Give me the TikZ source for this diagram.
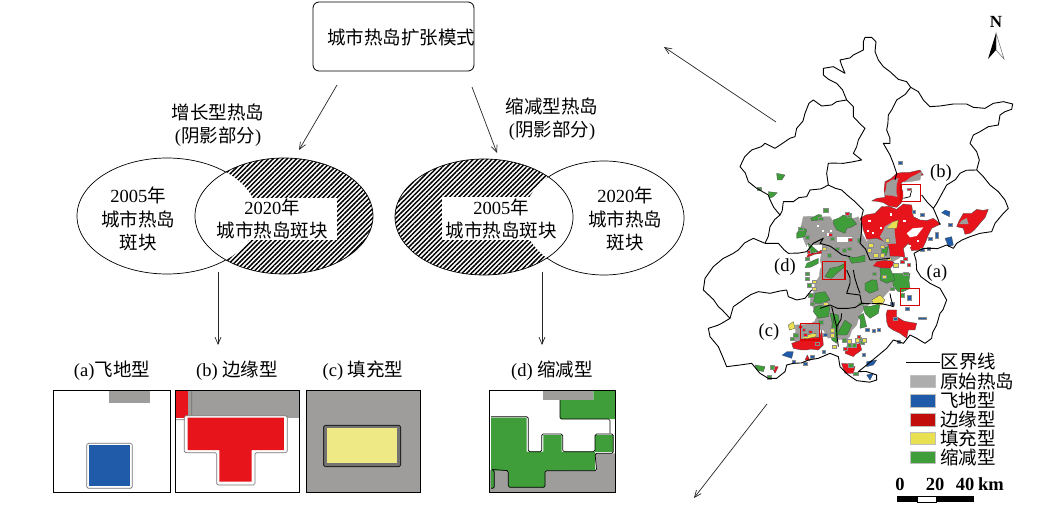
\documentclass[tikz,border=0pt]{standalone}
\usepackage{fontspec}
\setmainfont{Liberation Serif}
\newfontfamily\cjk{Noto Sans CJK SC}
\usetikzlibrary{arrows.meta,patterns.meta,shapes.geometric,decorations.pathmorphing}
\newcommand{\zh}[1]{{\cjk #1}}
\definecolor{hotgray}{HTML}{9F9D9B}
\definecolor{hotred}{HTML}{E8141C}
\definecolor{hotgreen}{HTML}{3F9E3A}
\definecolor{hotblue}{HTML}{1F5BA8}
\definecolor{hotyellow}{HTML}{E8E050}
\tikzset{
  every node/.style={font=\fontsize{18.5}{23.5}\selectfont,inner sep=0pt,align=center},
  flowline/.style={draw=black!85,line width=0.7pt,-{Straight Barb[length=7pt,width=6pt]}},
  spot/.style={draw=black,line width=0.7pt,shape=ellipse,inner sep=0pt},
  hatched/.style={pattern={Lines[angle=45,distance=3.3pt,line width=1.5pt]},pattern color=black},
  panel/.style={draw=black,line width=0.8pt},
  grown/.style={draw=black!55,line width=0.7pt,rounded corners=1.5pt},
  mapline/.style={draw=black,line width=0.9pt,line join=round,decorate,decoration={random steps,segment length=9pt,amplitude=2pt}},
  patch/.style={line width=0.3pt,draw=black!70,line join=round,decorate,decoration={random steps,segment length=7pt,amplitude=1.6pt}},
  graypatch/.style={patch,fill=hotgray,draw=hotgray},
  redpatch/.style={patch,fill=hotred},
  greenpatch/.style={patch,fill=hotgreen},
  bluepatch/.style={patch,fill=hotblue},
  yellowpatch/.style={patch,fill=hotyellow},
  speck/.style={line width=0.2pt,draw=black!45},
  redbox/.style={draw=red!85!black,line width=1.2pt},
  swatch/.style={minimum width=25pt,minimum height=12.5pt,draw=black!25,line width=0.4pt},
  legendtext/.style={anchor=west}
}
\begin{document}
\begin{tikzpicture}[x=1pt,y=-1pt]
    \useasboundingbox (0,0) rectangle (1039,516);
    \pgfmathsetseed{7}
    % top box and headings
    \node [draw=black,line width=0.8pt,rounded corners=6pt,minimum width=161pt,minimum height=69pt] (mode) at (393.5,36.5) {};
    \node (modetext) at (401,37) {\zh{城市热岛扩张模式}};
    \node (growtitle) at (218,125) {\zh{增长型热岛}\\(\zh{阴影部分})};
    \node (shrinktitle) at (552,119) {\zh{缩减型热岛}\\(\zh{阴影部分})};
    % growth ellipses
    \node [spot,minimum width=180pt,minimum height=116pt] (old1) at (167,216) {};
    \fill [white] (284,216) ellipse (89 and 58);
    \fill [hatched] (284,216) ellipse (89 and 58);
    \begin{scope}
        \clip (284,216) ellipse (89 and 58);
        \fill [white] (167,216) ellipse (90 and 58);
    \end{scope}
    \node [spot,minimum width=178pt,minimum height=116pt] (new1) at (284,216) {};
    \fill [white] (217,198) rectangle (337,240);
    \node (old1text) at (138,219) {2005\zh{年}\\\zh{城市热岛}\\\zh{斑块}};
    \node (new1text) at (272,219) {2020\zh{年}\\\zh{城市热岛斑块}};
    % shrink ellipses
    \node [spot,minimum width=160pt,minimum height=114pt] (new2) at (604,218) {};
    \fill [white] (484,217) ellipse (89 and 58);
    \fill [hatched] (484,217) ellipse (89 and 58);
    \begin{scope}
        \clip (484,217) ellipse (89 and 58);
        \fill [white] (604,218) ellipse (80 and 57);
    \end{scope}
    \node [spot,minimum width=178pt,minimum height=116pt] (old2) at (484,217) {};
    \fill [white] (442,197) rectangle (557,240);
    \node (old2text) at (501,219) {2005\zh{年}\\\zh{城市热岛斑块}};
    \node (new2text) at (625,219) {2020\zh{年}\\\zh{城市热岛}\\\zh{斑块}};
    % arrows
    \coordinate (a1) at (337,85);
    \coordinate (a2) at (299,150);
    \coordinate (b1) at (472,87);
    \coordinate (b2) at (497,153);
    \coordinate (c1) at (218,272);
    \coordinate (c2) at (218,345);
    \coordinate (d1) at (542,272);
    \coordinate (d2) at (542,345);
    \coordinate (e1) at (776,122);
    \coordinate (e2) at (664,47);
    \coordinate (f1) at (767,404);
    \coordinate (f2) at (694,498);
    \draw [flowline] (a1) -- (a2);
    \draw [flowline] (b1) -- (b2);
    \draw [flowline] (c1) -- (c2);
    \draw [flowline] (d1) -- (d2);
    \draw [flowline] (e1) -- (e2);
    \draw [flowline] (f1) -- (f2);
    % panel labels
    \node (labela) at (112,371) {(a)\zh{飞地型}};
    \node (labelb) at (237,371) {(b) \zh{边缘型}};
    \node (labelc) at (363,371) {(c) \zh{填充型}};
    \node (labeld) at (552,371) {(d) \zh{缩减型}};
    % panels a b c
    \begin{scope}[shift={(40,350)},scale=1/3]
        \fill [hotgray] (207,122) rectangle (330,160);
        \draw [grown,fill=white] (140,280) rectangle (277,415);
        \fill [hotblue] (146,286) rectangle (271,409);
        \draw [panel] (40,122) rectangle (392,428);
        \fill [hotgray] (445,122) rectangle (778,203);
        \fill [hotred] (405,122) rectangle (445,203);
        \draw [grown] (405,209) -- (455,209) -- (455,122);
        \draw [grown,fill=white] (433,197) -- (742,197) -- (742,308) -- (645,308) -- (645,405) -- (530,405) -- (530,308) -- (433,308) -- cycle;
        \fill [hotred] (443,203) -- (732,203) -- (732,300) -- (635,300) -- (635,395) -- (538,395) -- (538,300) -- (443,300) -- cycle;
        \draw [panel] (405,122) rectangle (778,428);
        \fill [hotgray] (798,122) rectangle (1142,428);
        \draw [draw=black!85,line width=0.9pt,rounded corners=1.5pt,fill=black!55] (851,226) rectangle (1082,350);
        \fill [hotyellow!70!white] (860,234) rectangle (1070,338);
        \draw [panel] (798,122) rectangle (1142,428);
    \end{scope}
    % panel d
    \begin{scope}[shift={(480,350)},scale=1/3]
        \fill [hotgray] (190,122) rectangle (340,150);
        \fill [hotgray] (345,310) -- (405,310) -- (405,427) -- (28,427) -- (28,360) -- (350,362) -- cycle;
        \fill [hotgreen] (240,150) -- (340,150) -- (340,122) -- (405,122) -- (405,207) -- (240,207) -- cycle;
        \fill [hotgreen] (33,203) -- (140,203) -- (140,305) -- (190,305) -- (190,255) -- (245,255) -- (245,305) -- (345,305) -- (345,362) -- (195,362) -- (195,412) -- (85,412) -- (85,362) -- (43,362) -- (43,415) -- (33,415) -- cycle;
        \fill [hotgreen] (345,255) -- (398,255) -- (398,305) -- (345,305) -- cycle;
        \draw [grown,draw=black] (240,150) -- (240,207) -- (390,207) -- (390,250);
        \draw [grown,draw=black] (33,200) -- (145,200) -- (145,305) -- (185,305) -- (185,252) -- (248,252) -- (248,305) -- (345,305) -- (345,252) -- (400,252) -- (400,310) -- (345,310) -- (350,362) -- (195,362) -- (195,412) -- (85,412) -- (85,362) -- (33,358) -- (43,362) -- (43,415) -- (33,415);
        \draw [panel] (28,122) rectangle (405,427);
    \end{scope}
    % map, drawn at three times size
    \begin{scope}[shift={(690,0)},scale=1/3]
        % old hot island
        \draw [graypatch] (340,650) -- (420,650) -- (430,665) -- (505,650) -- (515,700) -- (530,725) -- (580,670) -- (605,670) -- (610,720) -- (640,750) -- (640,760) -- (600,790) -- (600,810) -- (612,850) -- (590,880) -- (565,900) -- (540,910) -- (510,945) -- (500,975) -- (470,1020) -- (430,1010) -- (415,1015) -- (400,990) -- (385,990) -- (375,960) -- (385,945) -- (360,900) -- (375,850) -- (395,800) -- (395,760) -- (350,740) -- (335,700) -- cycle;
        \draw [graypatch] (315,975) -- (390,965) -- (392,1025) -- (315,1030) -- cycle;
        \fill [white] (440,712) rectangle (485,726);
        \fill [white] (352,735) rectangle (395,760);
        % edge type
        \draw [redpatch] (510,655) -- (555,640) -- (575,620) -- (620,628) -- (640,612) -- (665,615) -- (670,650) -- (690,660) -- (730,655) -- (752,672) -- (725,685) -- (715,705) -- (695,750) -- (665,752) -- (655,730) -- (640,745) -- (645,772) -- (600,768) -- (595,735) -- (560,715) -- (530,718) -- (520,690) -- cycle;
        \draw [graypatch] (585,680) -- (610,665) -- (618,730) -- (590,732) -- (570,710) -- cycle;
        \draw [redpatch] (585,545) -- (620,520) -- (690,510) -- (700,525) -- (660,540) -- (630,555) -- (640,590) -- (620,622) -- (545,603) -- (560,595) -- (585,592) -- (582,570) -- cycle;
        \draw [graypatch] (582,585) -- (590,550) -- (625,535) -- (622,590) -- cycle;
        \draw [graypatch] (660,533) -- (695,515) -- (690,540) -- (655,545) -- cycle;
        \draw [redpatch] (800,680) -- (820,640) -- (845,640) -- (860,628) -- (895,628) -- (870,670) -- (840,700) -- (825,703) -- (820,685) -- cycle;
        \draw [graypatch] (815,662) -- (830,655) -- (835,672) -- (818,672) -- cycle;
        \draw [redpatch] (592,930) -- (620,930) -- (620,950) -- (650,965) -- (680,970) -- (675,990) -- (655,990) -- (650,1015) -- (630,1000) -- (595,980) -- (590,965) -- cycle;
        \draw [redpatch] (305,1030) -- (330,1022) -- (390,1012) -- (395,990) -- (400,1035) -- (385,1050) -- (350,1050) -- (310,1045) -- cycle;
        \draw [redpatch] (470,1040) -- (510,1030) -- (515,1050) -- (490,1070) -- (465,1060) -- cycle;
        \draw [redpatch] (455,1090) -- (495,1100) -- (490,1120) -- (465,1120) -- cycle;
        \draw [redpatch] (352,1065) -- (360,1082) -- (345,1080) -- cycle;
        \draw [redpatch] (245,1100) -- (265,1100) -- (255,1120) -- cycle;
        \draw [redpatch] (560,785) -- (600,780) -- (615,790) -- (600,805) -- (565,800) -- cycle;
        \draw [redpatch] (355,760) -- (395,750) -- (395,760) -- (360,770) -- cycle;
        \fill [white] (640,575) -- (690,560) -- (690,600) -- (640,600) -- cycle;
        \fill [white] (650,700) -- (668,685) -- (700,682) -- (680,708) -- (660,712) -- cycle;
        \draw [line width=0.7pt] (640,595) -- (660,590) -- (665,570);
        \draw [speck,fill=hotred] (650,563) rectangle (664,571);
        % shrink type
        \draw [greenpatch] (430,660) -- (460,645) -- (490,660) -- (500,672) -- (470,685) -- (465,700) -- (440,690) -- cycle;
        \draw [greenpatch] (320,700) -- (335,680) -- (350,690) -- (345,710) -- (320,715) -- cycle;
        \draw [greenpatch] (362,655) -- (395,645) -- (395,660) -- (365,662) -- cycle;
        \draw [greenpatch] (260,520) -- (285,525) -- (275,540) -- (262,540) -- cycle;
        \draw [greenpatch] (235,575) -- (262,578) -- (250,590) -- (238,595) -- cycle;
        \draw [greenpatch] (610,820) -- (660,820) -- (660,865) -- (625,875) -- (610,860) -- cycle;
        \draw [greenpatch] (525,850) -- (560,840) -- (565,870) -- (540,880) -- (525,870) -- cycle;
        \draw [greenpatch] (570,805) -- (600,805) -- (615,840) -- (590,850) -- (570,840) -- cycle;
        \draw [greenpatch] (375,880) -- (405,875) -- (420,900) -- (395,910) -- (370,910) -- cycle;
        \draw [greenpatch] (375,920) -- (420,920) -- (415,950) -- (385,955) -- (370,935) -- cycle;
        \draw [greenpatch] (520,920) -- (570,910) -- (565,940) -- (540,955) -- (525,940) -- cycle;
        \draw [greenpatch] (505,950) -- (520,940) -- (530,980) -- (510,985) -- cycle;
        \draw [greenpatch] (465,960) -- (485,975) -- (470,1005) -- (440,1005) -- cycle;
        \draw [greenpatch] (420,940) -- (445,945) -- (445,985) -- (425,985) -- cycle;
        \draw [greenpatch] (195,1095) -- (225,1100) -- (220,1115) -- (200,1110) -- cycle;
        \draw [greenpatch] (405,830) -- (420,805) -- (445,800) -- (465,790) -- (462,802) -- (440,820) -- (425,835) -- cycle;
        \draw [greenpatch] (350,790) -- (385,775) -- (385,790) -- (355,800) -- cycle;
        \draw [greenpatch] (475,770) -- (525,765) -- (525,785) -- (485,790) -- cycle;
        \draw [greenpatch] (430,950) -- (425,1020) -- (440,1030) -- (445,990) -- cycle;
        \draw [greenpatch] (575,745) -- (595,740) -- (590,765) -- (575,770) -- cycle;
        \draw [greenpatch] (355,730) -- (385,755) -- (360,760) -- cycle;
        \foreach \x/\y in {400/625,385/650,325/680,345/705,470/640,500/715,420/710,410/760,345/770,350/850,355/880,345/830,345/815,360/905,385/960,500/1010,470/1030,455/1015,485/1030,300/1010,310/1000,505/905,545/815,630/880,600/860,640/815,475/1090,490/1115,230/1125,240/1095,200/560,435/740,455/745,510/1020,470/740}
            \draw [speck,fill=hotgreen] (\x,\y) rectangle ++(13,11);
        % infill type
        \draw [yellowpatch] (545,900) -- (570,885) -- (585,900) -- (575,915) -- (550,910) -- cycle;
        \draw [yellowpatch] (295,975) -- (310,965) -- (315,985) -- (298,990) -- cycle;
        \draw [yellowpatch] (345,1007) -- (378,1000) -- (378,1010) -- (345,1015) -- cycle;
        \draw [yellowpatch] (610,665) -- (625,660) -- (620,685) -- (610,685) -- cycle;
        \foreach \x/\y in {535/730,550/760,420/985,420/1000,395/740,575/825,365/840,585/715,400/905,365/860,515/1015,495/1015,470/1018,425/1035,590/770,610/790,570/735,530/745,570/760}
            \draw [speck,fill=hotyellow] (\x,\y) rectangle ++(13,10);
        % small edge pieces and holes
        \foreach \x/\y in {465/635,475/715,415/700,350/750,340/1000,335/985,325/975,500/1005,630/780,650/790,640/770,355/990,375/1025,460/1040}
            \draw [speck,fill=hotred] (\x,\y) rectangle ++(11,9);
        \foreach \x/\y in {535/660,570/680,545/695,640/660,655/735,680/720,600/640,530/690,420/690,395/690,410/700,380/675}
            \fill [white] (\x,\y) rectangle ++(7,7);
        % flying type
        \draw [bluepatch] (765,630) -- (780,635) -- (778,650) -- (768,645) -- cycle;
        \draw [bluepatch] (765,715) -- (785,710) -- (790,735) -- (775,740) -- cycle;
        \draw [bluepatch] (290,1055) -- (310,1055) -- (305,1075) -- (290,1070) -- cycle;
        \draw [bluepatch] (530,1085) -- (560,1080) -- (550,1095) -- (530,1100) -- cycle;
        \draw [bluepatch] (530,1125) -- (550,1120) -- (540,1140) -- cycle;
        \draw [speck,fill=hotblue] (652,885) rectangle (664,900);
        \draw [speck,fill=hotblue] (685,950) rectangle (708,958);
        \draw [speck,fill=hotblue] (735,695) rectangle (745,713);
        \foreach \x/\y in {775/668,625/484,665/630,715/710,645/920,545/988,620/1020,395/1050,400/1000,515/1060,305/1080,690/745,560/985,525/985,610/950,600/905,360/1065,340/1085,710/740,690/640}
            \draw [speck,fill=hotblue] (\x,\y) rectangle ++(11,9);
        % outline and districts
        \draw [mapline] (520,125) -- (525,112) -- (545,112) -- (558,125) -- (555,155) -- (565,180) -- (580,200) -- (600,215) -- (625,238) -- (650,245) -- (662,262) -- (685,275) -- (700,300) -- (720,320) -- (750,318) -- (790,312) -- (830,312) -- (850,322) -- (885,325) -- (910,310) -- (940,305) -- (968,312) -- (965,328) -- (945,335) -- (930,345) -- (925,375) -- (895,380) -- (870,395) -- (850,405) -- (840,430) -- (860,455) -- (868,480) -- (860,510) -- (880,530) -- (900,555) -- (925,575) -- (945,600) -- (955,625) -- (940,640) -- (915,670) -- (905,695) -- (870,700) -- (840,710) -- (800,730) -- (790,745) -- (770,735) -- (730,745) -- (700,745) -- (672,760) -- (680,810) -- (720,850) -- (750,865) -- (770,900) -- (750,940) -- (740,975) -- (725,1015) -- (705,1030) -- (680,1015) -- (660,1005) -- (640,1030) -- (610,1020) -- (590,1045) -- (560,1070) -- (530,1095) -- (505,1115) -- (560,1125) -- (560,1140) -- (500,1142) -- (475,1125) -- (450,1100) -- (445,1070) -- (420,1060) -- (385,1075) -- (355,1080) -- (310,1090) -- (290,1095) -- (285,1115) -- (260,1135) -- (235,1135) -- (210,1120) -- (185,1090) -- (150,1095) -- (110,1100) -- (100,1075) -- (85,1040) -- (60,1010) -- (55,985) -- (95,970) -- (120,955) -- (85,920) -- (40,870) -- (45,835) -- (70,800) -- (100,775) -- (145,750) -- (190,715) -- (225,730) -- (240,680) -- (270,645) -- (235,585) -- (200,565) -- (175,545) -- (150,500) -- (185,450) -- (225,430) -- (255,445) -- (315,410) -- (320,385) -- (345,340) -- (370,300) -- (395,318) -- (440,305) -- (470,300) -- (440,250) -- (400,225) -- (400,205) -- (430,200) -- (465,220) -- (450,180) -- (490,165) -- (520,150) -- cycle;
        \draw [mapline] (470,300) -- (490,320) -- (490,350) -- (525,385) -- (505,420) -- (490,460) -- (515,480) -- (460,490) -- (415,490) -- (410,520) -- (415,555) -- (455,570) -- (495,605) -- (520,630) -- (515,690) -- (510,730) -- (540,780);
        \draw [mapline] (415,555) -- (360,570) -- (350,590) -- (310,605) -- (280,605) -- (270,645);
        \draw [mapline] (662,262) -- (620,300) -- (595,345) -- (590,390) -- (600,430) -- (580,430) -- (600,465) -- (610,490) -- (620,520) -- (615,540);
        \draw [mapline] (860,510) -- (810,520) -- (770,555) -- (740,610) -- (730,625) -- (745,660) -- (750,675);
        \draw [mapline] (695,585) -- (730,625);
        \draw [mapline] (225,730) -- (265,730) -- (295,760) -- (350,755) -- (370,730) -- (400,715) -- (390,730) -- (430,745) -- (480,770);
        \draw [mapline] (120,955) -- (130,920) -- (165,895) -- (205,875) -- (240,880) -- (290,870) -- (295,890) -- (320,900) -- (345,895) -- (365,870);
        \draw [mapline] (470,810) -- (480,850) -- (470,880) -- (510,885) -- (515,910) -- (475,925) -- (420,915) -- (390,925);
        \draw [mapline] (490,810) -- (510,880);
        \draw [mapline] (425,920) -- (440,980) -- (445,1040);
        \draw [mapline] (440,980) -- (455,940);
        \draw [mapline] (515,910) -- (570,910) -- (610,920) -- (600,880);
        \draw [mapline] (540,780) -- (600,775);
        % red frames
        \draw [redbox] (633,553) rectangle (692,605);
        \draw [redbox] (398,785) rectangle (465,838);
        \draw [redbox] (632,866) rectangle (688,916);
        \draw [redbox] (332,970) rectangle (388,1020);
    \end{scope}
    % map labels
    \node (mapa) at (937,273) {(a)};
    \node (mapb) at (941,173) {(b)};
    \node (mapc) at (769,332) {(c)};
    \node (mapd) at (785,267) {(d)};
    % north arrow
    \node (north) at (996,22) {\fontsize{17}{17}\selectfont\textbf{N}};
    \fill [black] (996,33) -- (988,59) -- (996,50) -- cycle;
    \draw [black!60,fill=white,line width=0.5pt] (996,33) -- (1004,59) -- (996,50) -- cycle;
    % legend
    \coordinate (keyl) at (906,362);
    \coordinate (keyr) at (940,362);
    \draw [black,line width=0.7pt] (keyl) -- (keyr);
    \node [legendtext] (keyline) at (940.5,362) {\zh{区界线}};
    \node [swatch,fill=black!32] (keygray) at (923,381) {};
    \node [swatch,fill=hotblue] (keyblue) at (923,400.5) {};
    \node [swatch,fill=red!75!black!95] (keyred) at (923,419.5) {};
    \node [swatch,fill=hotyellow] (keyyellow) at (923,438) {};
    \node [swatch,fill=hotgreen] (keygreen) at (923,457) {};
    \node [legendtext] (txtgray) at (940,381) {\zh{原始热岛}};
    \node [legendtext] (txtblue) at (940,400.5) {\zh{飞地型}};
    \node [legendtext] (txtred) at (940,419.5) {\zh{边缘型}};
    \node [legendtext] (txtyellow) at (940,438) {\zh{填充型}};
    \node [legendtext] (txtgreen) at (940,457) {\zh{缩减型}};
    % scale bar
    \node (scale0) at (900,484) {\textbf{0}};
    \node (scale20) at (935,484) {\textbf{20}};
    \node (scale40) at (965,484) {\textbf{40}};
    \node (scalekm) at (991,484) {\textbf{km}};
    \fill [black] (897,496) rectangle (917,502);
    \draw [black,fill=white,line width=0.5pt] (917,496) rectangle (936,502);
    \fill [black] (936,496) rectangle (974,502);
\end{tikzpicture}
\end{document}
